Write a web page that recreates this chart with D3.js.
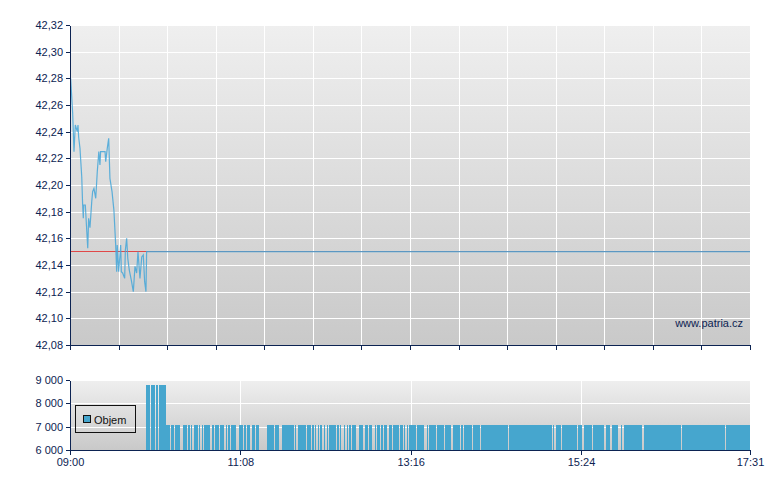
<!DOCTYPE html>
<html><head><meta charset="utf-8">
<script src="https://cdn.jsdelivr.net/npm/d3@7"></script>
<style>
html,body{margin:0;padding:0;background:#fff;}
svg{display:block;font-family:"Liberation Sans",Arial,sans-serif;}
</style></head>
<body><svg id="c" width="780" height="490"></svg>
<script>
// ---- data ----
const sessionStart = "09:00:00";
const sessionEnd = "17:31:00";
const prevClose = 42.15;
const priceTimes = ["09:00:30","09:02:00","09:03:00","09:04:00","09:05:30","09:06:00","09:06:30","09:07:30","09:08:50","09:09:30","09:10:00","09:10:20","09:11:30","09:13:20","09:14:00","09:15:00","09:16:20","09:17:00","09:18:00","09:19:20","09:20:30","09:21:40","09:22:30","09:23:00","09:26:20","09:26:50","09:28:00","09:29:05","09:30:00","09:31:35","09:33:00","09:34:20","09:35:05","09:35:30","09:36:35","09:38:05","09:38:35","09:39:35","09:41:05","09:41:35","09:42:35","09:43:25","09:44:35","09:46:00","09:47:35","09:48:50","09:50:05","09:51:05","09:52:35","09:53:55","09:55:05","09:56:05","09:57:05","09:57:35","17:31:00"];
const priceValues = [42.28,42.254,42.225,42.245,42.24,42.245,42.236,42.2275,42.206,42.185,42.175,42.185,42.185,42.1525,42.175,42.168,42.1875,42.195,42.1975,42.19,42.21,42.225,42.215,42.225,42.225,42.2175,42.2275,42.235,42.205,42.195,42.181,42.155,42.135,42.155,42.135,42.155,42.135,42.134,42.13,42.151,42.16,42.145,42.136,42.129,42.12,42.139,42.134,42.15,42.13,42.146,42.1475,42.1275,42.12,42.15,42.15];
const priceTicks = [42.08,42.10,42.12,42.14,42.16,42.18,42.20,42.22,42.24,42.26,42.28,42.30,42.32];
// volume: runs of consecutive minutes with the same volume
const volStart = ["09:57","10:01","10:05","10:07","10:12","10:16","10:19","10:25","10:29","10:31","10:33","10:37","10:39","10:41","10:47","10:49","10:53","10:57","10:59","11:01","11:07","11:11","11:13","11:17","11:20","11:28","11:34","11:39","11:49","11:51","11:58","12:02","12:04","12:06","12:08","12:11","12:13","12:15","12:21","12:23","12:26","12:28","12:30","12:32","12:37","12:42","12:45","12:49","12:51","12:54","12:56","13:00","13:03","13:08","13:11","13:13","13:15","13:21","13:28","13:30","13:36","13:42","13:48","13:54","13:56","14:03","14:09","14:30","15:03","15:05","15:10","15:22","15:26","15:33","15:43","15:47","15:54","15:56","16:11","16:40","17:13"];
const volEnd   = ["09:59","10:03","10:05","10:11","10:14","10:17","10:22","10:27","10:29","10:31","10:35","10:37","10:39","10:44","10:47","10:51","10:55","10:57","10:59","11:04","11:09","11:11","11:14","11:18","11:21","11:32","11:36","11:47","11:49","11:56","12:00","12:02","12:04","12:06","12:08","12:11","12:13","12:19","12:21","12:23","12:26","12:28","12:30","12:34","12:39","12:43","12:46","12:49","12:52","12:54","12:57","13:01","13:06","13:09","13:11","13:13","13:19","13:25","13:28","13:34","13:40","13:45","13:52","13:54","14:01","14:07","14:28","15:01","15:03","15:08","15:20","15:24","15:31","15:40","15:45","15:51","15:54","16:09","16:38","17:11","17:30"];
const volValue = [8800,8800,8800,8800,7070,7070,7070,7070,7070,7070,7070,7070,7070,7070,7070,7070,7070,7070,7070,7070,7070,7070,7070,7070,7070,7070,7070,7070,7070,7070,7070,7070,7070,7070,7070,7070,7070,7070,7070,7070,7070,7070,7070,7070,7070,7070,7070,7070,7070,7070,7070,7070,7070,7070,7070,7070,7070,7070,7070,7070,7070,7070,7070,7070,7070,7070,7070,7070,7070,7070,7070,7070,7070,7070,7070,7070,7070,7070,7070,7070,7070];
const volTicks = [6000,7000,8000,9000];
const timeLabels = ["09:00","11:08","13:16","15:24","17:31"];
const legendLabel = "Objem";
const watermark = "www.patria.cz";

// ---- setup ----
const pT = d3.timeParse("%H:%M:%S"), pM = d3.timeParse("%H:%M");
const navy = "#0c2352";
const svg = d3.select("#c");
const L = 70, R = 750;
const P = {top:25, bottom:345}, V = {top:380, bottom:450};
const t0 = pT(sessionStart), t1 = pT(sessionEnd);
const x = d3.scaleTime().domain([t0, t1]).range([L, R]);
const y = d3.scaleLinear().domain([42.08, 42.32]).range([P.bottom, P.top]);
const yv = d3.scaleLinear().domain([6000, 9000]).range([V.bottom, V.top]);
const loc = d3.formatLocale({decimal:",", thousands:"\u00a0", grouping:[3], currency:["","Kč"]});
const fP = loc.format(".2f"), fV = loc.format(",d");

const defs = svg.append("defs");
function grad(id){
  const g = defs.append("linearGradient").attr("id", id).attr("x1",0).attr("y1",0).attr("x2",0).attr("y2",1);
  g.append("stop").attr("offset","0%").attr("stop-color","#efefef");
  g.append("stop").attr("offset","100%").attr("stop-color","#c9c9c9");
}
grad("gp"); grad("gv");

// ---- price panel ----
svg.append("rect").attr("x",L).attr("y",P.top).attr("width",R-L).attr("height",P.bottom-P.top).attr("fill","url(#gp)");
const nV = 14;
const vTicks = d3.range(nV+1).map(i => new Date(+t0 + i*(t1-t0)/nV));
const gp = svg.append("g").attr("stroke","#fff").attr("stroke-width",1).attr("shape-rendering","crispEdges");
gp.selectAll("line.h").data(priceTicks).join("line").attr("class","h")
  .attr("x1",L).attr("x2",R).attr("y1",d=>Math.round(y(d))+0.5).attr("y2",d=>Math.round(y(d))+0.5);
gp.selectAll("line.v").data(vTicks.slice(1)).join("line").attr("class","v")
  .attr("y1",P.top).attr("y2",P.bottom).attr("x1",d=>Math.round(x(d))+0.5).attr("x2",d=>Math.round(x(d))+0.5);

svg.append("text").attr("x",743).attr("y",327).attr("text-anchor","end")
  .attr("font-size",11).attr("fill",navy).text(watermark);

svg.append("line").attr("x1",L).attr("x2",R)
  .attr("y1",Math.floor(y(prevClose))+0.5).attr("y2",Math.floor(y(prevClose))+0.5)
  .attr("stroke","#e04848").attr("stroke-width",1).attr("shape-rendering","crispEdges");

const pdata = priceTimes.map((t,i)=>({t:pT(t), v:priceValues[i]}));
svg.append("path").datum(pdata)
  .attr("d", d3.line().x(d=>x(d.t)).y(d=>y(d.v)))
  .attr("fill","none").attr("stroke","#44a6d8").attr("stroke-width",1.2).attr("stroke-opacity",0.85);

const axL = svg.append("g").attr("transform",`translate(${L},0)`)
  .call(d3.axisLeft(y).tickValues(priceTicks).tickFormat(fP).tickSize(4).tickSizeOuter(0).tickPadding(3));
const axB = svg.append("g").attr("transform",`translate(0,${P.bottom})`)
  .call(d3.axisBottom(x).tickValues(vTicks).tickFormat("").tickSize(5).tickSizeOuter(0));

// ---- volume panel ----
svg.append("rect").attr("x",L).attr("y",V.top).attr("width",R-L).attr("height",V.bottom-V.top).attr("fill","url(#gv)");
const lblTimes = timeLabels.map(pM);
const gv = svg.append("g").attr("stroke","#fff").attr("stroke-width",1).attr("shape-rendering","crispEdges");
gv.selectAll("line.h").data(volTicks.slice(1)).join("line").attr("class","h")
  .attr("x1",L).attr("x2",R).attr("y1",d=>Math.round(yv(d))+0.5).attr("y2",d=>Math.round(yv(d))+0.5);
gv.selectAll("line.v").data(lblTimes.slice(1,-1)).join("line").attr("class","v")
  .attr("y1",V.top).attr("y2",V.bottom).attr("x1",d=>Math.round(x(d))+0.5).attr("x2",d=>Math.round(x(d))+0.5);

const runs = volStart.map((s,i)=>({s:pM(s), e:d3.timeMinute.offset(pM(volEnd[i]),1), v:volValue[i]}));
svg.append("g").attr("shape-rendering","crispEdges").selectAll("rect").data(runs).join("rect")
  .attr("x",d=>x(d.s)).attr("width",d=>Math.max(1,x(d.e)-x(d.s)))
  .attr("y",d=>yv(d.v)).attr("height",d=>yv(6000)-yv(d.v)).attr("fill","#46a6ce");

const axLV = svg.append("g").attr("transform",`translate(${L},0)`)
  .call(d3.axisLeft(yv).tickValues(volTicks).tickFormat(fV).tickSize(4).tickSizeOuter(0).tickPadding(3));
const axBV = svg.append("g").attr("transform",`translate(0,${V.bottom})`)
  .call(d3.axisBottom(x).tickValues(lblTimes).tickFormat((d,i)=>timeLabels[i]).tickSize(5).tickSizeOuter(0).tickPadding(3));

[axL,axB,axLV,axBV].forEach(a=>{
  a.selectAll("path.domain").attr("stroke",navy).attr("stroke-width",1).attr("shape-rendering","crispEdges");
  a.selectAll(".tick line").attr("stroke",navy).attr("shape-rendering","crispEdges");
  a.selectAll("text").attr("fill",navy).attr("font-size",11).attr("font-family","Liberation Sans, Arial, sans-serif");
});

// legend
const lg = svg.append("g");
lg.append("rect").attr("x",75.5).attr("y",405.5).attr("width",60).attr("height",27)
  .attr("fill","none").attr("stroke","#111").attr("stroke-width",1);
lg.append("rect").attr("x",83.5).attr("y",415.5).attr("width",7).attr("height",7)
  .attr("fill","#46a6ce").attr("stroke","#111").attr("stroke-width",1);
lg.append("text").attr("x",94).attr("y",424).attr("font-size",11).attr("fill","#111").text(legendLabel);
</script></body></html>
